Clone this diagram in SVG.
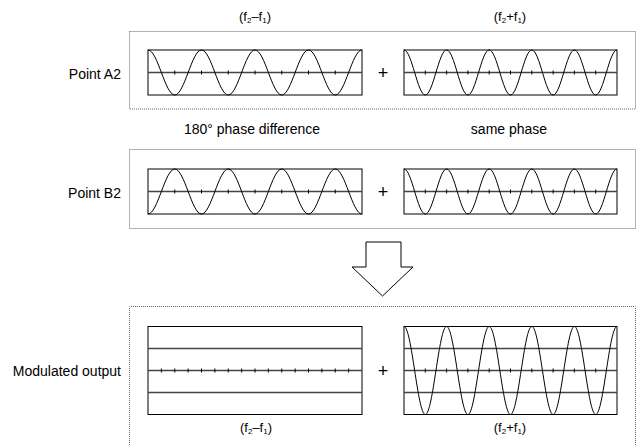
<svg xmlns="http://www.w3.org/2000/svg" xmlns:xlink="http://www.w3.org/1999/xlink" width="637" height="446" viewBox="0 0 637 446">
<style>
text{font-family:"Liberation Sans",Arial,Helvetica,sans-serif;font-size:14px;fill:#000}
.lbl{font-size:13px}
.sub{font-size:8px}
.plus{font-size:18px}
.grp{fill:none;stroke:#666;stroke-width:1;stroke-dasharray:1,1}
.frame{fill:none;stroke:#000;stroke-width:1}
.axis{stroke:#444;stroke-width:1.3;fill:none}
.tick{stroke:#000;stroke-width:1;fill:none}
.wave{fill:none;stroke:#000;stroke-width:1}
</style>
<defs>
<path id="cos4" class="wave" d="M0,0 c4.84,0 9.013,10.973 13.375,22.5 c4.362,11.527 8.535,22.5 13.375,22.5 c4.84,0 9.013,-10.973 13.375,-22.5 c4.362,-11.527 8.535,-22.5 13.375,-22.5 c4.84,0 9.013,10.973 13.375,22.5 c4.362,11.527 8.535,22.5 13.375,22.5 c4.84,0 9.013,-10.973 13.375,-22.5 c4.362,-11.527 8.535,-22.5 13.375,-22.5 c4.84,0 9.013,10.973 13.375,22.5 c4.362,11.527 8.535,22.5 13.375,22.5 c4.84,0 9.013,-10.973 13.375,-22.5 c4.362,-11.527 8.535,-22.5 13.375,-22.5 c4.84,0 9.013,10.973 13.375,22.5 c4.362,11.527 8.535,22.5 13.375,22.5 c4.84,0 9.013,-10.973 13.375,-22.5 c4.362,-11.527 8.535,-22.5 13.375,-22.5"/>
<path id="cos5" class="wave" d="M0,0 c3.854,0 7.177,10.973 10.65,22.5 c3.473,11.527 6.796,22.5 10.65,22.5 c3.854,0 7.177,-10.973 10.65,-22.5 c3.473,-11.527 6.796,-22.5 10.65,-22.5 c3.854,0 7.177,10.973 10.65,22.5 c3.473,11.527 6.796,22.5 10.65,22.5 c3.854,0 7.177,-10.973 10.65,-22.5 c3.473,-11.527 6.796,-22.5 10.65,-22.5 c3.854,0 7.177,10.973 10.65,22.5 c3.473,11.527 6.796,22.5 10.65,22.5 c3.854,0 7.177,-10.973 10.65,-22.5 c3.473,-11.527 6.796,-22.5 10.65,-22.5 c3.854,0 7.177,10.973 10.65,22.5 c3.473,11.527 6.796,22.5 10.65,22.5 c3.854,0 7.177,-10.973 10.65,-22.5 c3.473,-11.527 6.796,-22.5 10.65,-22.5 c3.854,0 7.177,10.973 10.65,22.5 c3.473,11.527 6.796,22.5 10.65,22.5 c3.854,0 7.177,-10.973 10.65,-22.5 c3.473,-11.527 6.796,-22.5 10.65,-22.5"/>
<path id="ticks7" class="tick" d="M26.75,-2 v4 M53.5,-2 v4 M80.25,-2 v4 M107,-2 v4 M133.75,-2 v4 M160.5,-2 v4 M187.25,-2 v4"/>
<path id="ticks9" class="tick" d="M21.3,-2 v4 M42.6,-2 v4 M63.9,-2 v4 M85.2,-2 v4 M106.5,-2 v4 M127.8,-2 v4 M149.1,-2 v4 M170.4,-2 v4 M191.7,-2 v4"/>
</defs>

<!-- Top labels -->
<text class="lbl" x="255" y="21" text-anchor="middle">(f<tspan class="sub" dy="2">2</tspan><tspan dy="-2">–f</tspan><tspan class="sub" dy="2">1</tspan><tspan dy="-2">)</tspan></text>
<text class="lbl" x="510" y="21" text-anchor="middle">(f<tspan class="sub" dy="2">2</tspan><tspan dy="-2">+f</tspan><tspan class="sub" dy="2">1</tspan><tspan dy="-2">)</tspan></text>

<!-- Point A2 -->
<g id="pointA2">
<rect class="grp" x="129.5" y="31.5" width="506" height="77.5"/>
<text x="121" y="78.5" text-anchor="end">Point A2</text>
<rect class="frame" x="148" y="50" width="214" height="45"/>
<line class="axis" x1="148" y1="72.5" x2="362" y2="72.5"/>
<use xlink:href="#ticks7" x="148" y="72.5"/>
<use xlink:href="#cos4" x="148" y="50"/>
<text class="plus" x="383" y="78.5" text-anchor="middle">+</text>
<rect class="frame" x="404" y="50" width="213" height="45"/>
<line class="axis" x1="404" y1="72.5" x2="617" y2="72.5"/>
<use xlink:href="#ticks9" x="404" y="72.5"/>
<use xlink:href="#cos5" x="404" y="50"/>
</g>

<text x="252" y="134" text-anchor="middle">180° phase difference</text>
<text x="509" y="134" text-anchor="middle">same phase</text>

<!-- Point B2 -->
<g id="pointB2">
<rect class="grp" x="129.5" y="149.5" width="506" height="79"/>
<text x="121" y="198" text-anchor="end">Point B2</text>
<rect class="frame" x="148" y="169" width="214" height="45"/>
<line class="axis" x1="148" y1="191.5" x2="362" y2="191.5"/>
<use xlink:href="#ticks7" x="148" y="191.5"/>
<use xlink:href="#cos4" transform="translate(148,214) scale(1,-1)"/>
<text class="plus" x="383" y="197.5" text-anchor="middle">+</text>
<rect class="frame" x="404" y="169" width="213" height="45"/>
<line class="axis" x1="404" y1="191.5" x2="617" y2="191.5"/>
<use xlink:href="#ticks9" x="404" y="191.5"/>
<use xlink:href="#cos5" x="404" y="169"/>
</g>

<!-- Arrow -->
<g id="arrow">
<polygon points="366,242 401,242 401,267 413,267 382.5,296 352,267 366,267" fill="#fff" stroke="#000" stroke-width="1"/>
</g>

<!-- Modulated output -->
<g id="modulated">
<path class="grp" d="M129.5,447 V306.5 H635.5 V447"/>
<text x="121" y="376" text-anchor="end">Modulated output</text>
<rect class="frame" x="148" y="326.5" width="214" height="88"/>
<line class="axis" x1="148" y1="348.5" x2="362" y2="348.5"/>
<line class="axis" x1="148" y1="370.5" x2="362" y2="370.5"/>
<line class="axis" x1="148" y1="392.5" x2="362" y2="392.5"/>
<path class="tick" d="M161.375,368.5 v4 M174.75,368.5 v4 M188.125,368.5 v4 M201.5,368.5 v4 M214.875,368.5 v4 M228.25,368.5 v4 M241.625,368.5 v4 M255,368.5 v4 M268.375,368.5 v4 M281.75,368.5 v4 M295.125,368.5 v4 M308.5,368.5 v4 M321.875,368.5 v4 M335.25,368.5 v4 M348.625,368.5 v4"/>
<text class="plus" x="383" y="376.5" text-anchor="middle">+</text>
<rect class="frame" x="404" y="326.5" width="213" height="88"/>
<line class="axis" x1="404" y1="348.5" x2="617" y2="348.5"/>
<line class="axis" x1="404" y1="370.5" x2="617" y2="370.5"/>
<line class="axis" x1="404" y1="392.5" x2="617" y2="392.5"/>
<use xlink:href="#ticks9" x="404" y="370.5"/>
<path class="wave" d="M404,326.5 c3.854,0 7.177,21.459 10.65,44 c3.473,22.541 6.796,44 10.65,44 c3.854,0 7.177,-21.459 10.65,-44 c3.473,-22.541 6.796,-44 10.65,-44 c3.854,0 7.177,21.459 10.65,44 c3.473,22.541 6.796,44 10.65,44 c3.854,0 7.177,-21.459 10.65,-44 c3.473,-22.541 6.796,-44 10.65,-44 c3.854,0 7.177,21.459 10.65,44 c3.473,22.541 6.796,44 10.65,44 c3.854,0 7.177,-21.459 10.65,-44 c3.473,-22.541 6.796,-44 10.65,-44 c3.854,0 7.177,21.459 10.65,44 c3.473,22.541 6.796,44 10.65,44 c3.854,0 7.177,-21.459 10.65,-44 c3.473,-22.541 6.796,-44 10.65,-44 c3.854,0 7.177,21.459 10.65,44 c3.473,22.541 6.796,44 10.65,44 c3.854,0 7.177,-21.459 10.65,-44 c3.473,-22.541 6.796,-44 10.65,-44"/>
<text class="lbl" x="256" y="432" text-anchor="middle">(f<tspan class="sub" dy="2">2</tspan><tspan dy="-2">–f</tspan><tspan class="sub" dy="2">1</tspan><tspan dy="-2">)</tspan></text>
<text class="lbl" x="510" y="432" text-anchor="middle">(f<tspan class="sub" dy="2">2</tspan><tspan dy="-2">+f</tspan><tspan class="sub" dy="2">1</tspan><tspan dy="-2">)</tspan></text>
</g>
</svg>
